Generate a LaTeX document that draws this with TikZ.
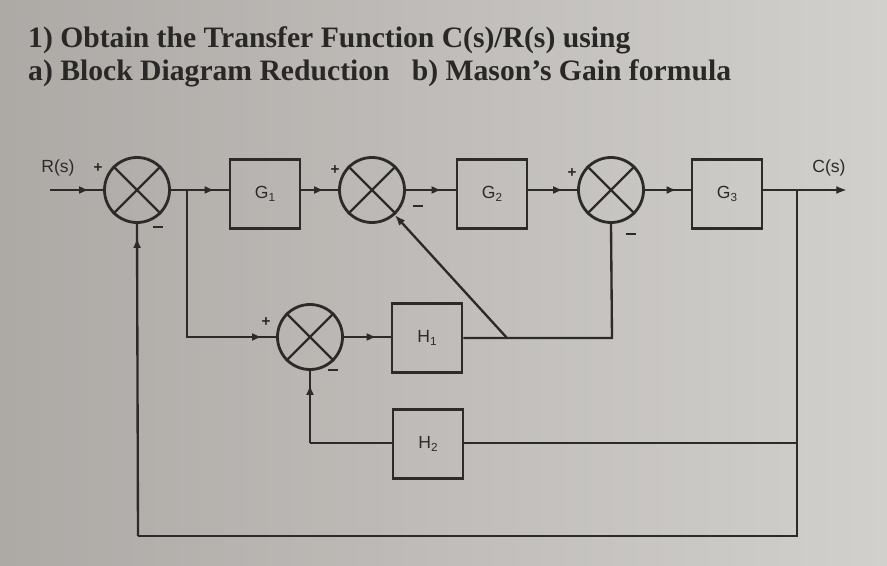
\documentclass[tikz,border=0pt]{standalone}
\usepackage{fontspec}
\setmainfont{Liberation Serif}
\newfontfamily\labfont{Liberation Sans}
\usetikzlibrary{arrows.meta,decorations.markings,calc}
\definecolor{paper}{RGB}{192,188,184}
\definecolor{paperlight}{RGB}{210,208,205}
\definecolor{ink}{RGB}{45,43,41}
\definecolor{titleink}{RGB}{42,40,38}
\newcommand{\subn}[1]{\raisebox{-0.35ex}{\fontsize{10}{10}\selectfont #1}}
\newcommand{\minussign}{\rule{9pt}{1.8pt}}
\tikzset{
  sig/.style={line width=2pt, draw=ink},
  blockbox/.style={draw=ink, line width=2.4pt, minimum width=2.1cm, minimum height=2.05cm, inner sep=0pt, font=\labfont\fontsize{15}{15}\selectfont, text=ink},
  summer/.style={draw=ink, line width=2.4pt, circle, minimum size=1.95cm, inner sep=0pt},
  midarr/.style={postaction={decorate}, decoration={markings, mark=at position -0.42cm with {\arrow{Latex[length=0.3cm,width=0.24cm]}}}},
  endarr/.style={-{Latex[length=0.32cm,width=0.24cm]}},
  signlab/.style={font=\labfont\bfseries\fontsize{13}{13}\selectfont, text=ink, inner sep=0pt},
  lab/.style={font=\labfont\fontsize{15}{15}\selectfont, text=ink, inner sep=0pt},
  titletext/.style={font=\bfseries\fontsize{25.3}{25.3}\selectfont, text=titleink, inner sep=0pt, anchor=west}
}
\begin{document}
\begin{tikzpicture}[x=0.03cm,y=-0.03cm]
\shade[left color=paper!90!black, right color=paperlight] (0,0) rectangle (887,566);
\useasboundingbox (0,0) rectangle (887,566);

% title
\node[titletext] (t1) at (28,40) {1) Obtain the Transfer Function C(s)/R(s) using};
\node[titletext] (t2) at (28,73) {a) Block Diagram Reduction\enspace\ b) Mason's Gain formula};

% blocks
\node[summer] (s1) at (137,190) {};
\node[summer] (s2) at (372,190) {};
\node[summer] (s3) at (611,190) {};
\node[summer] (s4) at (310,337) {};
\foreach \s in {s1,s2,s3,s4}{
  \draw[ink, line width=2.1pt] (\s.north west) -- (\s.south east) (\s.north east) -- (\s.south west);
}
\node[blockbox] (g1) at (265,194) {G\subn{1}};
\node[blockbox] (g2) at (492,194) {G\subn{2}};
\node[blockbox] (g3) at (727,194) {G\subn{3}};
\node[blockbox] (h1) at (427,338) {H\subn{1}};
\node[blockbox] (h2) at (428,444) {H\subn{2}};

% labels
\node[lab] (rl) at (58,168) {R(s)};
\node[lab] (cl) at (829,168) {C(s)};
\node[signlab] (p1) at (98,168) {+};
\node[signlab, fill=ink, minimum width=0.3cm, minimum height=1.8pt] (m1) at (158,227) {};
\node[signlab] (p2) at (335,170) {+};
\node[signlab, fill=ink, minimum width=0.3cm, minimum height=1.8pt] (m2) at (418,206) {};
\node[signlab] (p3) at (572,173) {+};
\node[signlab, fill=ink, minimum width=0.3cm, minimum height=1.8pt] (m3) at (631,234) {};
\node[signlab] (p4) at (266,322) {+};
\node[signlab, fill=ink, minimum width=0.3cm, minimum height=1.8pt] (m4) at (333,370) {};

% coordinates
\coordinate (rin) at (50,190);
\coordinate (cout) at (847,190);
\coordinate (b1) at (187,190);
\coordinate (b2) at (797,190);
\coordinate (b3) at (797,443);
\coordinate (j1) at (507,338);
\coordinate (j2) at (612,338);
\coordinate (bl) at (138,536);
\coordinate (br) at (797,536);
\coordinate (hl) at (310,443);

% forward path
\draw[sig, midarr] (rin) -- (s1.west);
\draw[sig, midarr] (s1.east) -- (g1.west |- s1.east);
\draw[sig, midarr] (g1.east |- s2.west) -- (s2.west);
\draw[sig, midarr] (s2.east) -- (g2.west |- s2.east);
\draw[sig, midarr] (g2.east |- s3.west) -- (s3.west);
\draw[sig, midarr] (s3.east) -- (g3.west |- s3.east);
\draw[sig, endarr] (g3.east |- cout) -- (cout);

% inner loops
\draw[sig, midarr] (b1) |- (s4.west);
\draw[sig, midarr] (s4.east) -- (h1.west |- s4.east);
\draw[sig] (h1.east |- j1) -- (j1) -- (j2) -- (s3.south);
\draw[sig, endarr] (j1) -- (s2);

% outer feedback
\draw[sig] (b2) -- (br) -- (bl);
\draw[sig, midarr] (bl) -- (s1.south);
\draw[sig] (b3) -- (h2.east |- b3);
\draw[sig] (h2.west |- hl) -- (hl);
\draw[sig, midarr] (hl) -- (s4.south);
\end{tikzpicture}
\end{document}
